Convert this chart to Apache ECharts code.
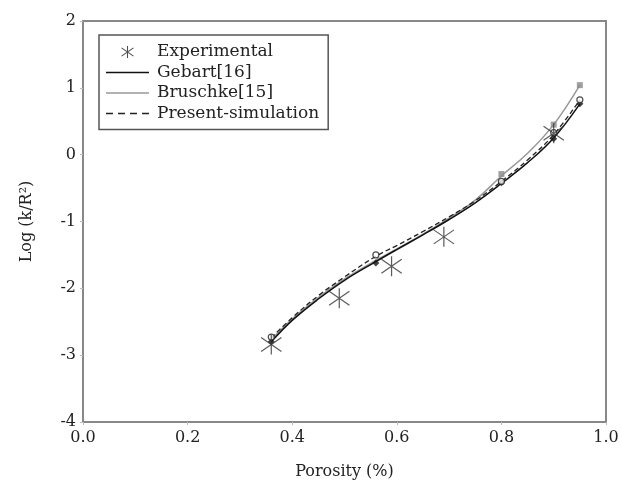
<!DOCTYPE html>
<html>
<head>
<meta charset="utf-8">
<script src="https://cdn.jsdelivr.net/npm/echarts@6/dist/echarts.min.js"></script>
<style>html,body{margin:0;padding:0;background:#fff;}#c{width:622px;height:485px;}</style>
</head>
<body>
<div id="c"></div>
<script>
// ---- data ----
var xTicks = [0.0, 0.2, 0.4, 0.6, 0.8, 1.0];
var yTicks = [-4, -3, -2, -1, 0, 1, 2];

var expX = [0.36, 0.49, 0.59, 0.69, 0.90];
var expY = [-2.84, -2.15, -1.67, -1.23, 0.32];

var curveX   = [0.36, 0.40, 0.45, 0.50, 0.56, 0.60, 0.65, 0.70, 0.75, 0.80, 0.85, 0.90, 0.95];
var gebartY  = [-2.80, -2.48, -2.16, -1.88, -1.60, -1.42, -1.20, -0.97, -0.72, -0.43, -0.12, 0.25, 0.76];
var bruschY  = [-2.77, -2.46, -2.14, -1.86, -1.58, -1.41, -1.19, -0.95, -0.68, -0.32, 0.02, 0.45, 1.04];
var presentY = [-2.74, -2.44, -2.11, -1.83, -1.52, -1.36, -1.15, -0.93, -0.69, -0.40, -0.08, 0.30, 0.82];

var gebartMkX  = [0.36, 0.56, 0.80, 0.90, 0.95];
var gebartMkY  = [-2.80, -1.62, -0.42, 0.24, 0.76];
var bruschMkX  = [0.80, 0.90, 0.95];
var bruschMkY  = [-0.29, 0.45, 1.04];
var presentMkX = [0.36, 0.56, 0.80, 0.90, 0.95];
var presentMkY = [-2.73, -1.50, -0.40, 0.33, 0.82];

var names = ['Experimental', 'Gebart[16]', 'Bruschke[15]', 'Present-simulation'];

function pairs(xs, ys) { return xs.map(function (x, i) { return [x, ys[i]]; }); }

var asterisk = 'path://M-0.6,-10L0.6,-10L0.6,10L-0.6,10Z' +
  'M-9.66,-7.49L10.34,6.51L9.66,7.49L-10.34,-6.51Z' +
  'M-10.34,6.51L9.66,-7.49L10.34,-6.51L-9.66,7.49Z';
var asteriskLegend = 'path://M-0.9,-10L0.9,-10L0.9,10L-0.9,10Z' +
  'M-9.5,-7.7L10.5,6.3L9.5,7.7L-10.5,-6.3Z' +
  'M-10.5,6.3L9.5,-7.7L10.5,-6.3L-9.5,7.7Z';
var solidIcon = 'path://M0,0L43,0L43,1.4L0,1.4Z';
var dashIcon = 'path://M0,0L7,0L7,1.3L0,1.3ZM12,0L19,0L19,1.3L12,1.3ZM24,0L31,0L31,1.3L24,1.3ZM36,0L43,0L43,1.3L36,1.3Z';

var FONT = 'DejaVu Serif';
var chart = echarts.init(document.getElementById('c'), null, {renderer: 'canvas'});
chart.setOption({
  animation: false,
  backgroundColor: '#fff',
  grid: {left: 83, right: 16, top: 21, bottom: 63, show: true, borderColor: '#888', borderWidth: 2},
  legend: {
    orient: 'vertical', left: 99, top: 35,
    padding: [7, 9, 6, 7], itemGap: 0.5,
    itemWidth: 43, itemHeight: 12,
    backgroundColor: '#fff', borderColor: '#555', borderWidth: 1.5,
    textStyle: {fontFamily: FONT, fontSize: 17, color: '#222', lineHeight: 20, padding: [0, 0, 0, 3]},
    data: [
      {name: names[0], icon: asteriskLegend, itemStyle: {color: '#222'}},
      {name: names[1], icon: solidIcon, itemStyle: {color: '#111'}},
      {name: names[2], icon: solidIcon, itemStyle: {color: '#999'}},
      {name: names[3], icon: dashIcon, itemStyle: {color: '#222'}}
    ]
  },
  xAxis: {
    type: 'value', min: xTicks[0], max: xTicks[xTicks.length - 1], interval: 0.2,
    name: 'Porosity (%)', nameLocation: 'middle', nameGap: 42,
    nameTextStyle: {fontFamily: FONT, fontSize: 16, color: '#222'},
    axisLine: {show: true, onZero: false, lineStyle: {color: '#888', width: 2}},
    axisTick: {show: true, length: 3, lineStyle: {color: '#bbb'}},
    splitLine: {show: false},
    axisLabel: {fontFamily: FONT, fontSize: 16, color: '#222', margin: 8,
      formatter: function (v) { return v.toFixed(1); }}
  },
  yAxis: {
    type: 'value', min: yTicks[0], max: yTicks[yTicks.length - 1], interval: 1,
    name: 'Log (k/R²)', nameLocation: 'middle', nameGap: 48,
    nameTextStyle: {fontFamily: FONT, fontSize: 16, color: '#222'},
    axisLine: {show: true, onZero: false, lineStyle: {color: '#888', width: 2}},
    axisTick: {show: true, length: 3, lineStyle: {color: '#bbb'}},
    splitLine: {show: false},
    axisLabel: {fontFamily: FONT, fontSize: 16, color: '#222', margin: 7}
  },
  series: [
    {name: names[1], type: 'line', smooth: 0.4, symbol: 'none', z: 3,
     lineStyle: {color: '#111', width: 1.5}, itemStyle: {color: '#111'},
     data: pairs(curveX, gebartY)},
    {name: names[2], type: 'line', smooth: 0.4, symbol: 'none', z: 2,
     lineStyle: {color: '#999', width: 1.5}, itemStyle: {color: '#999'},
     data: pairs(curveX, bruschY)},
    {name: names[3], type: 'line', smooth: 0.4, symbol: 'none', z: 4,
     lineStyle: {color: '#222', width: 1.3, type: [5, 3]}, itemStyle: {color: '#222'},
     data: pairs(curveX, presentY)},
    {name: 'gebartMarks', type: 'scatter', symbol: 'diamond', symbolSize: 7, z: 5,
     itemStyle: {color: '#111'}, data: pairs(gebartMkX, gebartMkY)},
    {name: 'bruschMarks', type: 'scatter', symbol: 'rect', symbolSize: 6, z: 5,
     itemStyle: {color: '#888'}, data: pairs(bruschMkX, bruschMkY)},
    {name: 'presentMarks', type: 'scatter', symbol: 'circle', symbolSize: 6, z: 6,
     itemStyle: {color: '#fff', borderColor: '#222', borderWidth: 1.2}, data: pairs(presentMkX, presentMkY)},
    {name: names[0], type: 'scatter', symbol: asterisk, symbolSize: [21, 20], z: 7,
     itemStyle: {color: '#333'}, data: pairs(expX, expY)}
  ]
});
</script>
</body>
</html>
